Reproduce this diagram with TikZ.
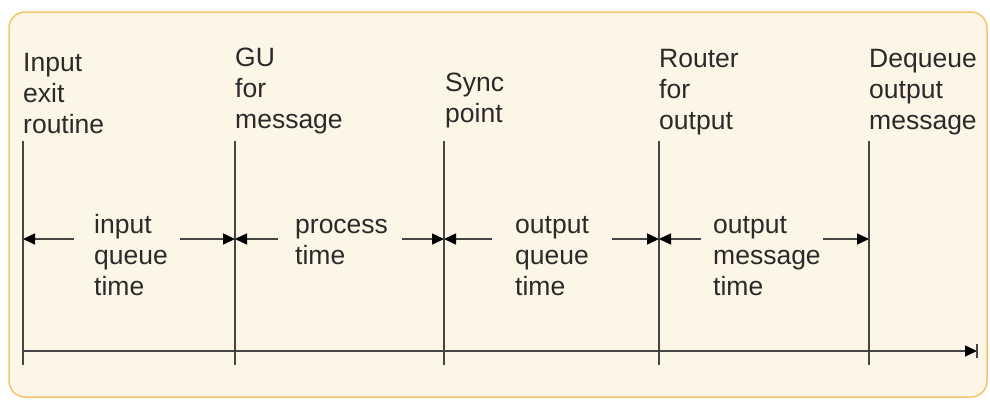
\documentclass[tikz,border=0pt]{standalone}
\usepackage{fontspec}
\setmainfont{Liberation Sans}
\usetikzlibrary{arrows.meta}
\definecolor{boxfill}{HTML}{FDF6E6}
\definecolor{boxline}{HTML}{F6C46C}
\definecolor{lin}{HTML}{454545}
\definecolor{txt}{HTML}{2A2A2A}
\begin{document}
\begin{tikzpicture}[x=1pt,y=-1pt,
  lbl/.style={anchor=base west,inner sep=0pt,align=left,text=txt,font=\fontsize{26.5}{31}\selectfont},
  vline/.style={draw=lin,line width=1.5pt},
  dimarrow/.style={draw=lin,line width=1.5pt,-{Triangle[length=12pt,width=11pt,color=black]}},
  axis/.style={draw=lin,line width=1.5pt,-{Triangle[length=12pt,width=11pt,color=black]}}]
\useasboundingbox (0,0) rectangle (990,400);
\draw[fill=boxfill,draw=boxline,line width=1.5pt,rounded corners=16pt] (9,12) rectangle (987,397);
% vertical lines
\foreach \n/\x in {1/23,2/235,3/444,4/659,5/869}{
  \coordinate (t\n) at (\x,141);
  \coordinate (b\n) at (\x,365);
  \coordinate (m\n) at (\x,239);
  \coordinate (a\n) at (\x,351);
}
\foreach \n in {1,...,5}{\draw[vline] (t\n) -- (b\n);}
% axis
\coordinate (axend) at (977,351);
\coordinate (bartop) at (977,344);
\coordinate (barbot) at (977,358);
\draw[axis] (a1) -- (axend);
\draw[vline] (bartop) -- (barbot);
% headers (anchored at the baseline of the last line)
\node[lbl] (h1) at (23,133) {Input\\exit\\routine};
\node[lbl] (h2) at (235,128) {GU\\for\\message};
\node[lbl] (h3) at (445,122) {Sync\\point};
\node[lbl] (h4) at (659,129) {Router\\for\\output};
\node[lbl] (h5) at (869,129) {Dequeue\\output\\message};
% interval labels
\node[lbl] (l1) at (94,295) {input\\queue\\time};
\node[lbl] (l2) at (295,264) {process\\time};
\node[lbl] (l3) at (515,295) {output\\queue\\time};
\node[lbl] (l4) at (713,295) {output\\message\\time};
% arrow start points
\coordinate (s1l) at (74,239); \coordinate (s1r) at (180,239);
\coordinate (s2l) at (278,239); \coordinate (s2r) at (402,239);
\coordinate (s3l) at (492,239); \coordinate (s3r) at (612,239);
\coordinate (s4l) at (701,239); \coordinate (s4r) at (823,239);
\draw[dimarrow] (s1l) -- (m1);
\draw[dimarrow] (s1r) -- (m2);
\draw[dimarrow] (s2l) -- (m2);
\draw[dimarrow] (s2r) -- (m3);
\draw[dimarrow] (s3l) -- (m3);
\draw[dimarrow] (s3r) -- (m4);
\draw[dimarrow] (s4l) -- (m4);
\draw[dimarrow] (s4r) -- (m5);
\end{tikzpicture}
\end{document}
